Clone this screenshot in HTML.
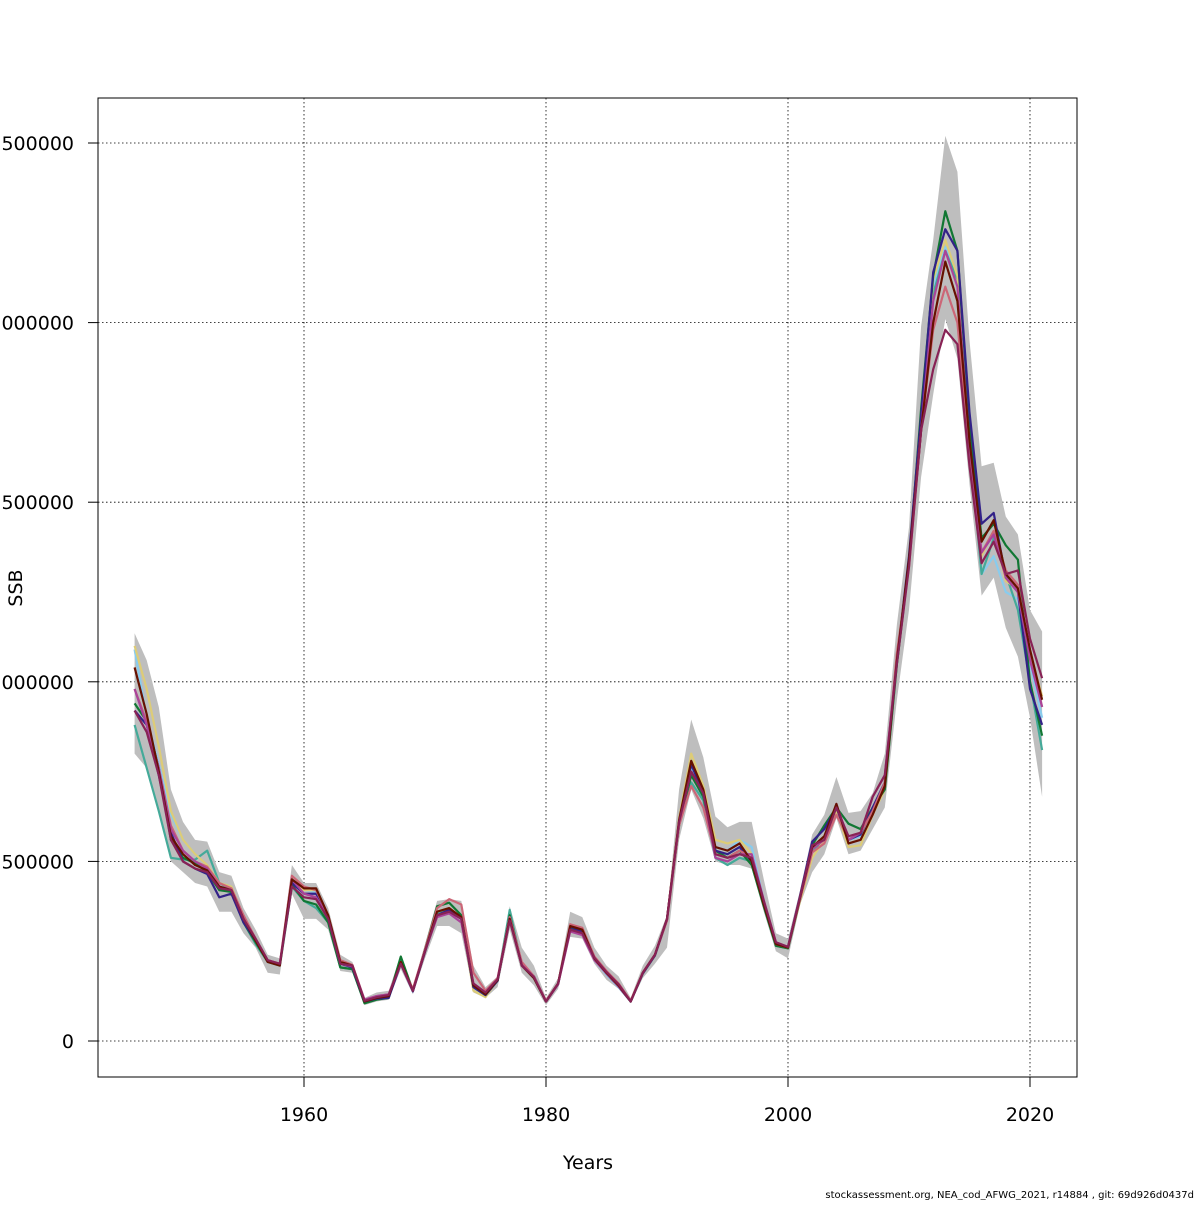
<!DOCTYPE html>
<html><head><meta charset="utf-8"><style>
body{margin:0;background:#fff;}
svg text{font-family:"DejaVu Sans","Liberation Sans",sans-serif;}
</style></head><body>
<svg id="chart" width="1200" height="1200" xmlns="http://www.w3.org/2000/svg">
<rect width="1200" height="1200" fill="#fff"/>
<g id="grid"></g>
<g id="band"></g>
<g id="lines"></g>
<rect x="98" y="98" width="979" height="979" fill="none" stroke="#000" stroke-width="1"/>
<g id="axes"></g>
<text x="588" y="1169" font-size="19" text-anchor="middle">Years</text>
<text x="0" y="0" font-size="19" text-anchor="middle" transform="translate(22,588) rotate(-90)">SSB</text>
<text x="1194" y="1198" font-size="10" text-anchor="end">stockassessment.org, NEA_cod_AFWG_2021, r14884 , git: 69d926d0437d</text>
</svg>
<script>
const years=[];for(let y=1946;y<=2021;y++)years.push(y);
const xTicks=[1960,1980,2000,2020];
const yTicks=[0,500000,1000000,1500000,2000000,2500000];
const yTickLabels=["0","500000","1000000","1500000","2000000","2500000"];
const upper=[1135,1060,930,700,610,560,555,470,460,370,310,240,230,490,440,440,370,240,220,120,135,140,240,150,270,390,395,390,210,150,180,375,260,210,120,175,360,345,260,210,180,120,210,265,350,700,895,790,625,595,610,610,450,300,285,420,575,630,735,635,640,690,800,1160,1430,1990,2230,2520,2420,1950,1600,1610,1460,1410,1200,1140];
const lower=[800,760,640,500,470,440,430,360,360,300,260,190,185,410,340,340,310,195,190,100,110,115,200,130,230,320,320,300,135,120,150,310,190,155,100,145,290,285,215,170,145,105,175,215,260,560,700,620,500,490,490,480,360,250,230,380,470,520,620,520,530,590,650,950,1200,1570,1800,2010,1900,1550,1240,1290,1150,1070,900,680];
const sMaroon=[1040,910,750,570,520,490,475,430,420,340,280,220,210,450,425,425,350,220,210,110,120,125,220,140,250,360,370,345,155,130,170,340,210,175,110,160,320,310,230,190,155,110,190,240,340,615,780,700,540,530,550,500,380,270,260,400,540,570,660,550,560,630,710,1060,1340,1700,2000,2170,2060,1670,1390,1450,1300,1260,1090,950];
const sNavy=[920,880,740,580,500,480,465,400,410,330,280,225,215,440,410,410,345,215,205,110,118,120,215,138,248,350,365,340,150,128,168,345,215,180,110,158,318,305,228,188,152,110,188,238,338,610,770,690,530,520,540,500,385,272,262,405,555,590,650,560,575,650,720,1060,1350,1740,2140,2260,2200,1750,1440,1470,1290,1250,980,880];
const sGreen=[940,890,760,560,510,495,470,420,415,330,275,222,212,435,390,380,330,205,200,105,115,120,235,140,255,375,385,350,150,128,168,350,215,180,110,160,315,305,230,188,152,110,188,238,338,600,740,680,530,510,530,490,375,265,258,395,545,600,650,605,590,650,700,1050,1330,1760,2130,2310,2200,1720,1400,1440,1380,1340,1000,850];
const sPurple=[920,860,740,560,500,480,470,425,420,340,285,225,215,430,400,395,340,215,210,112,122,128,215,140,250,350,360,340,160,135,172,335,210,178,110,160,310,300,232,192,158,110,190,240,340,610,750,690,520,510,520,510,390,275,262,402,545,560,650,570,580,680,740,1050,1320,1700,1870,1980,1940,1600,1330,1390,1300,1310,1120,1010];
const sRose=[980,890,760,600,530,500,485,440,425,350,285,225,215,460,430,420,350,225,212,115,125,130,215,145,255,370,395,380,190,140,175,345,220,180,112,160,325,315,235,195,160,112,190,240,335,600,710,650,520,510,530,510,385,270,260,395,525,550,630,560,580,640,720,1080,1320,1700,1980,2100,2000,1640,1360,1420,1310,1270,1080,930];
const sTeal=[880,760,640,510,505,505,530,440,420,330,270,220,210,430,390,370,330,205,200,108,118,124,225,142,250,355,365,340,150,128,170,365,210,175,110,160,320,310,230,188,152,110,190,240,340,610,720,670,510,490,510,500,375,265,258,392,530,560,640,560,580,640,700,1050,1330,1710,2080,2200,2120,1660,1300,1400,1300,1200,1000,810];
const sBlue=[1090,900,770,630,560,520,490,440,430,340,280,222,212,445,420,415,345,218,208,110,120,125,220,140,250,355,365,345,155,130,170,350,212,178,110,160,315,305,225,185,150,110,188,238,338,610,760,690,540,530,560,540,390,272,262,398,530,560,650,560,570,640,710,1060,1340,1720,2100,2210,2120,1680,1300,1350,1250,1230,1050,900];
const sYellow=[1100,980,820,640,560,520,490,440,430,345,282,222,212,450,420,420,350,220,210,110,120,125,220,140,250,360,370,345,140,122,170,345,215,178,110,160,320,310,230,190,155,112,190,240,340,620,800,710,560,550,560,520,385,272,262,390,510,560,640,540,545,630,700,1060,1330,1720,2120,2230,2130,1700,1350,1420,1280,1260,1080,960];
const sMagenta=[980,880,760,590,530,500,480,430,420,340,282,222,212,450,410,400,345,215,208,115,125,130,215,140,250,345,355,330,160,135,172,340,212,178,110,158,305,295,225,188,152,110,190,240,340,610,750,690,510,500,520,520,392,275,262,400,535,560,660,560,580,680,740,1060,1330,1700,2060,2200,2100,1660,1360,1410,1290,1250,1060,930];
const series=[["sBlue",sBlue,"#88CCEE"],["sTeal",sTeal,"#44AA99"],["sYellow",sYellow,"#DDCC77"],["sGreen",sGreen,"#117733"],["sNavy",sNavy,"#332288"],["sRose",sRose,"#CC6677"],["sMagenta",sMagenta,"#AA4499"],["sMaroon",sMaroon,"#661100"],["sPurple",sPurple,"#882255"]];
const NS="http://www.w3.org/2000/svg";
const X=y=>304+(y-1960)*12.1;
const Y=v=>1041-v*179.6/500000;
function mk(tag,attrs,parent){const e=document.createElementNS(NS,tag);for(const k in attrs)e.setAttribute(k,attrs[k]);parent.appendChild(e);return e;}
const grid=document.getElementById('grid'),axes=document.getElementById('axes');
xTicks.forEach(t=>{
 const l=mk('line',{x1:X(t),x2:X(t),y1:98,y2:1077,stroke:'#000','stroke-width':0.8,'stroke-dasharray':'1.5,2.5'},grid);
 
 
 const tk=mk('line',{x1:X(t),x2:X(t),y1:1077,y2:1087,stroke:'#000'},axes);
 
 
 const tx=mk('text',{x:X(t),y:1121,'font-size':19,'text-anchor':'middle'},axes);tx.textContent=t;
 
 
});
yTicks.forEach((t,i)=>{
 const l=mk('line',{x1:98,x2:1077,y1:Y(t),y2:Y(t),stroke:'#000','stroke-width':0.8,'stroke-dasharray':'1.5,2.5'},grid);
 
 
 const tk=mk('line',{x1:88,x2:98,y1:Y(t),y2:Y(t),stroke:'#000'},axes);
 
 
 const tx=mk('text',{x:74,y:Y(t)+7,'font-size':19,'text-anchor':'end'},axes);tx.textContent=yTickLabels[i];
 
 
});
let d=years.map((y,i)=>(i?'L':'M')+X(y)+','+Y(upper[i]*1000)).join('');
for(let i=years.length-1;i>=0;i--)d+='L'+X(years[i])+','+Y(lower[i]*1000);
const band=mk('path',{d:d+'Z',fill:'#bebebe',stroke:'none'},document.getElementById('band'));


const lg=document.getElementById('lines');
series.forEach(s=>{
 const p=mk('path',{d:years.map((y,i)=>(i?'L':'M')+X(y)+','+Y(s[1][i]*1000)).join(''),fill:'none',stroke:s[2],'stroke-width':2.2,'stroke-linejoin':'round'},lg);
 
 
});
</script>
</body></html>
